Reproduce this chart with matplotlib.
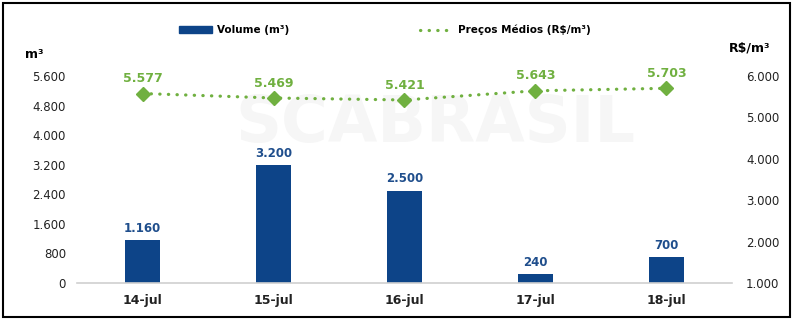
import matplotlib.pyplot as plt
from matplotlib.lines import Line2D
from matplotlib.patches import Patch, Rectangle
import numpy as np

plt.rcParams['font.family'] = ['DejaVu Sans']

dias = ['14-jul', '15-jul', '16-jul', '17-jul', '18-jul']
volume = [1160, 3200, 2500, 240, 700]
precos = [5577, 5469, 5421, 5643, 5703]

azul = '#0d4488'
azul_txt = '#1f4e8c'
verde = '#70b040'
pontilhado = (0, (0.1, 2.6))

def fmt(v):
    return f'{v:,}'.replace(',', '.')

fig = plt.figure(figsize=(7.95, 3.21), dpi=100)
ax = fig.add_axes([77/795, 1 - 283/321, 655/795, 207/321])
ax2 = ax.twinx()

# marca d'agua (atras de tudo)
ax.text(435/795, 1 - 124/321, 'SCABRASIL', fontsize=46, fontweight='bold',
        color='#f6f6f6', ha='center', va='center', zorder=0,
        transform=fig.transFigure)

x = np.arange(len(dias))
ax.bar(x, volume, width=0.27, color=azul, zorder=2)
for xi, v in zip(x, volume):
    ax.text(xi, v + 140, fmt(v), ha='center', va='bottom', color=azul_txt,
            fontsize=8.5, fontweight='bold')

ax.set_xlim(-0.5, 4.5)
ax.set_ylim(0, 5600)
ax.set_yticks(np.arange(0, 5601, 800))
ax.set_yticklabels([fmt(t) for t in range(0, 5601, 800)])
ax.set_xticks(x)
ax.set_xticklabels(dias, fontweight='bold')

ax2.plot(x, precos, color=verde, linestyle=pontilhado, linewidth=2.3,
         dash_capstyle='round', marker='D', markersize=7.5, zorder=3)
for xi, p in zip(x, precos):
    ax2.text(xi, p + 200, fmt(p), ha='center', va='bottom', color=verde,
             fontsize=9, fontweight='bold')
ax2.set_ylim(1000, 6000)
ax2.set_yticks(np.arange(1000, 6001, 1000))
ax2.set_yticklabels([fmt(t) for t in range(1000, 6001, 1000)])

for a in (ax, ax2):
    for s in a.spines.values():
        s.set_visible(False)
    a.tick_params(length=0, labelsize=8.5, colors='#222222')
ax.spines['bottom'].set_visible(True)
ax.spines['bottom'].set_color('#d0d0d0')
ax.spines['bottom'].set_linewidth(1.2)
ax.tick_params(axis='y', pad=8)
ax.tick_params(axis='x', pad=8, labelsize=9)
ax2.tick_params(axis='y', pad=10)

fig.text(25/795, 1 - 55/321, 'm³', fontsize=9, fontweight='bold', va='center')
fig.text(729/795, 1 - 48/321, 'R$/m³', fontsize=9, fontweight='bold', va='center')

handles = [Patch(color=azul),
           Line2D([0], [0], color=verde, linestyle=pontilhado, linewidth=2.3,
                  dash_capstyle='round')]
fig.legend(handles, ['Volume (m³)', 'Preços Médios (R$/m³)'],
           loc='center', bbox_to_anchor=(385/795, 1 - 30/321), ncol=2,
           frameon=False, prop={'weight': 'bold', 'size': 7.5},
           handlelength=3.2, handleheight=0.55, handletextpad=0.5,
           columnspacing=12.5)

fig.patches.append(Rectangle((3/795, 4/321), 787/795, 314/321, transform=fig.transFigure,
                             fill=False, edgecolor='black', linewidth=1.5))

fig.savefig('out.png', dpi=100)
